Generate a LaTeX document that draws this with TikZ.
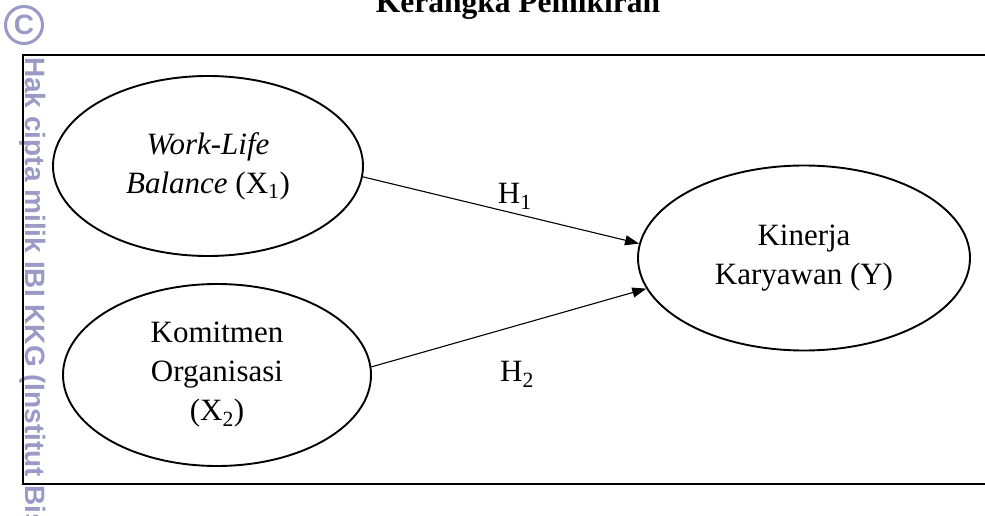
\documentclass[tikz,border=0pt]{standalone}
\usepackage{fontspec}
\setmainfont{Liberation Serif}
\newfontfamily\wmfont{Liberation Sans}
\usetikzlibrary{arrows.meta,positioning,shapes.geometric}
\definecolor{colorWm}{HTML}{9A9AC6}

\begin{document}
\begin{tikzpicture}[x=1pt,y=-1pt,>={Triangle[length=14pt,width=10pt]},every node/.append style={align=center,font=\fontsize{31}{39}\selectfont},var/.style={draw, ellipse, line width=1.9pt, inner sep=0pt, minimum width=310pt, minimum height=180pt},wm/.style={text=colorWm, font=\wmfont\bfseries\fontsize{28}{28}\selectfont},]
    \useasboundingbox (0,0) rectangle (985,516);
    % watermark
    \node [wm, circle, draw=colorWm, line width=3pt, minimum size=37pt, inner sep=0pt] (copy) at (24,25) {C};
    \node [wm, rotate=-90, anchor=north west, inner sep=0pt] (mark) at (46,57) {Hak cipta milik IBI KKG (Institut Bis};
    % frame
    \draw [line width=2.5pt] (985,55) -- (23,55) -- (23,484) -- (985,484);
    \node [anchor=base, font=\bfseries\fontsize{31.5}{38}\selectfont] (title) at (518,13) {Kerangka Pemikiran};
    \node [var] (wlb) at (208,166) {\textit{Work-Life}\\\textit{Balance} (X\textsubscript{1})};
    \node [var, minimum width=308pt, minimum height=182pt] (kom) at (217,375) {Komitmen\\Organisasi\\(X\textsubscript{2})};
    \node [var, minimum width=332pt, minimum height=185pt] (kin) at (804,258) {Kinerja\\Karyawan (Y)};
    \path[->, line width=1.1pt] (wlb.-4) edge node [above, pos=0.55] {H\textsubscript{1}} (kin.175);
    \path[->, line width=1.1pt] (kom.3) edge node [below=32pt, pos=0.53] {H\textsubscript{2}} (kin.-169);
\end{tikzpicture}
\end{document}
